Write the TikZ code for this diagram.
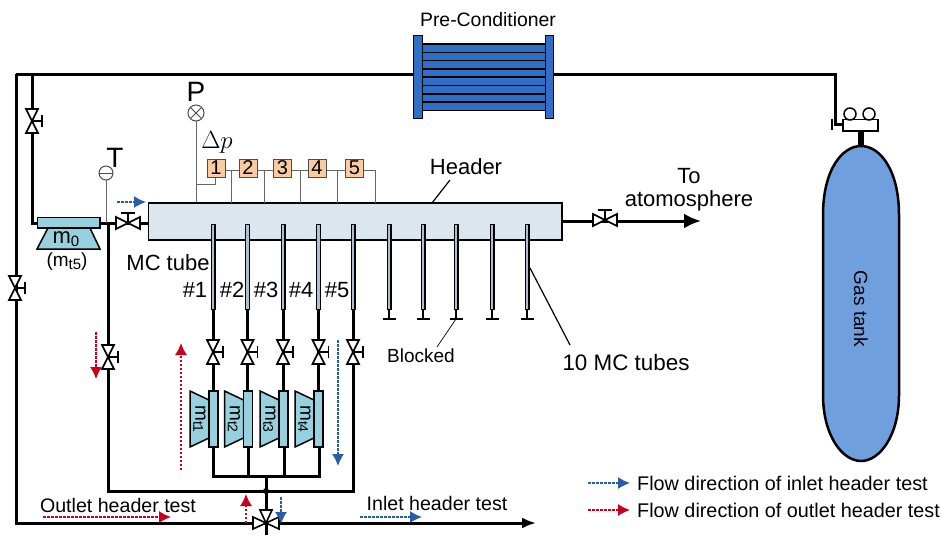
\documentclass[tikz,border=0pt]{standalone}
\usepackage{fontspec}
\setmainfont{Liberation Sans}
\usetikzlibrary{arrows.meta}
\definecolor{scale}{HTML}{97D0DE}
\definecolor{hdr}{HTML}{DCE6EE}
\definecolor{tube}{HTML}{AEBFD0}
\definecolor{orangebox}{HTML}{F8CBA0}
\definecolor{blueflow}{HTML}{2A5CAA}
\definecolor{redflow}{HTML}{C8001E}
\definecolor{cond}{HTML}{2F6FC6}
\definecolor{tank}{HTML}{6F9FDC}
\tikzset{
 pipe/.style={line width=3pt,draw=black},
 gauge/.style={line width=1pt,draw=black!60},
 thin line/.style={line width=1.2pt,draw=black},
 lbl/.style={inner sep=0pt,font=\fontsize{22}{24}\selectfont},
 dbox/.style={draw=black!70,line width=1pt,fill=orangebox,minimum size=18pt,inner sep=0pt,font=\fontsize{20}{22}\selectfont},
 inflow/.style={blueflow,line width=1.4pt,dash pattern=on 2.5pt off 1.5pt,-{Latex[length=12pt,width=12pt,fill=blueflow]}},
 outflow/.style={redflow,line width=1.4pt,dash pattern=on 2.5pt off 1.5pt,-{Latex[length=12pt,width=12pt,fill=redflow]}},
 vvalve/.pic={
  \draw[line width=1.6pt,fill=white] (-6,-12)--(6,-12)--(-6,12)--(6,12)--cycle;
  \draw[line width=1.6pt] (0,0)--(10,0) (10,-6)--(10,6);},
 hvalve/.pic={
  \draw[line width=1.6pt,fill=white] (-12,-6)--(-12,6)--(12,-6)--(12,6)--cycle;
  \draw[line width=1.6pt] (0,0)--(0,-10) (-7,-10)--(7,-10);},
 tvalve/.pic={
  \draw[line width=1.6pt,fill=white] (-13,-6)--(-13,6)--(13,-6)--(13,6)--cycle;
  \draw[line width=1.6pt,fill=white] (-6,-13)--(6,-13)--(0,0)--cycle;},
}
\newcommand{\mctube}[3]{\draw[line width=5pt,draw=black] (#1,#2)--(#1,#3);\draw[line width=2.2pt,draw=tube] (#1,#2+1)--(#1,#3-1);}
\begin{document}
\begin{tikzpicture}[x=1pt,y=-1pt]
\useasboundingbox (0,0) rectangle (941,535);
% coordinates
\coordinate (tl) at (16,74);
\coordinate (pcL) at (415,74);
\coordinate (pcR) at (553,74);
\coordinate (tr) at (835.5,74);
\coordinate (reg) at (835.5,124);
\coordinate (bl) at (16,523);
\coordinate (tv) at (266,523);
\coordinate (pipeEnd) at (536,523);
% main pipes
\draw[pipe] (tl)--(pcL);
\draw[pipe] (pcR)--(tr)--(reg)--(843,124);
\draw[line width=1.6pt] (832,119)--(832,130);
\draw[pipe] (tl)--(bl)--(tv);
\draw[pipe,-{Latex[length=14pt,width=11pt]}] (tv)--(pipeEnd);
\draw[pipe] (32,74)--(32,223)--(38,223);
\draw[pipe] (100,223)--(148,223);
\draw[pipe] (108,223)--(108,491)--(353,491)--(353,310);
\draw[pipe] (266,476)--(266,535);
\draw[pipe] (562,221)--(605,221);
\draw[pipe,-{Latex[length=17pt,width=15pt]}] (605,221)--(701,221);
\fill (266,491) circle (3);
% valves
\path (32,121) pic {vvalve};
\path (15,288) pic {vvalve};
\path (108,357) pic {vvalve};
\path (128,223) pic {hvalve};
\path (605,220) pic {hvalve};
\path (266,523) pic {tvalve};
% preconditioner
\foreach \y in {44,52.3,60.6,68.9,77.2,85.5,93.8,102}{
 \draw[line width=1.5pt,fill=cond] (420,\y) rectangle (548,\y+8.3);}
\draw[line width=1.5pt,fill=cond] (413.5,35.5) rectangle (422.5,118.5);
\draw[line width=1.5pt,fill=cond] (545.5,35.5) rectangle (553.5,118.5);
\node[lbl,font=\fontsize{19.4}{22}\selectfont] (pc) at (488,20) {Pre-Conditioner};
% tank
\draw[line width=6pt] (861,127)--(861,148);
\draw[line width=1.5pt,fill=white] (843,119.5) rectangle (878,131);
\draw[line width=1.5pt,fill=white] (850,114) circle (6) (869,114) circle (6);
\draw[line width=2.5pt,fill=tank] (823,215) .. controls (823,170) and (842,146) .. (861,146) .. controls (880,146) and (899,170) .. (899,215) -- (899,395) .. controls (899,435) and (880,461) .. (861,461) .. controls (842,461) and (823,435) .. (823,395) -- cycle;
\node[lbl,rotate=-90,font=\fontsize{19}{22}\selectfont] (gas) at (861,309) {Gas tank};
% scale m0
\draw[line width=1.5pt,fill=scale] (48,228)--(90,228)--(100,249)--(37,249)--cycle;
\draw[line width=1.5pt,fill=scale] (37.5,217.5) rectangle (100,228);
\node[lbl,inner sep=0pt] (m0) at (66,239) {m\raisebox{-3pt}{\fontsize{15}{17}\selectfont 0}};
\node[lbl,font=\fontsize{19}{22}\selectfont] (mt5) at (67,262) {(m\raisebox{-3pt}{\fontsize{15}{17}\selectfont t5})};
% T sensor
\draw[gauge] (106,173)--(106,223);
\draw[line width=1pt,draw=black!70,fill=white] (106,173) circle (7);
\draw[line width=1pt,draw=black!70] (99,173)--(113,173);
\node[lbl,font=\fontsize{28}{30}\selectfont] (T) at (115,158) {T};
% P sensor
\draw[gauge] (196,113)--(196,202);
\draw[line width=1pt,draw=black!70,fill=white] (196,113) circle (8);
\draw[line width=1pt,draw=black!70] (190.3,107.3)--(201.7,118.7) (190.3,118.7)--(201.7,107.3);
\node[lbl,font=\fontsize{28}{30}\selectfont] (P) at (196,92) {P};
\node[inner sep=0pt,font=\fontsize{23}{25}\selectfont] (dp) at (217,142) {$\Delta p$};
% header
\draw[line width=1.5pt,fill=hdr] (148.5,203) rectangle (562,240);
% dp boxes
\draw[gauge] (196,184)--(215,184)--(215,177);
\draw[gauge] (225,170)--(375,170)--(375,203);
\foreach \x in {231,264.5,300,337}{\draw[gauge] (\x,170)--(\x,203);}
\node[dbox] (b1) at (216,168) {1};
\node[dbox] (b2) at (248,168) {2};
\node[dbox] (b3) at (282.5,168) {3};
\node[dbox] (b4) at (317,168) {4};
\node[dbox] (b5) at (354.5,168) {5};
% tubes
\foreach \x in {213,247.5,283,318.5}{
 \draw[pipe] (\x,310)--(\x,391);
 \mctube{\x}{224}{310}
 \path (\x,352) pic {vvalve};
}
\mctube{353}{224}{310}
\path (353,352) pic {vvalve};
\foreach \x in {389,423,456,492,527}{
 \mctube{\x}{224}{310}
 \draw[line width=1.6pt] (\x,310)--(\x,319) (\x-6.5,319)--(\x+6.5,319);
}
% mass scales
\draw[pipe] (213,447)--(213,476)--(319,476)--(319,447);
\draw[pipe] (248,447)--(248,476) (284,447)--(284,476);
\foreach \x/\n/\dx in {213.5/1/0,248/2/0,283.5/3/0,318.5/4/0}{
 \draw[line width=1.5pt,fill=scale] (\x-23.5,391)--(\x-4.5,400)--(\x-4.5,438)--(\x-23.5,447)--cycle;
 \draw[line width=1.5pt,fill=scale] (\x-4.5,391) rectangle (\x+4.5,447);
 \node[rotate=-90,inner sep=0pt,font=\fontsize{19}{21}\selectfont] at (\x-14,419) {m\raisebox{-2pt}{\fontsize{14}{16}\selectfont t\n}};
}
% labels
\node[lbl] (hl) at (466,167) {Header};
\draw[thin line] (450,180)--(432,203);
\node[lbl] (to) at (689,176) {To};
\node[lbl] (atm) at (689,201) {atomosphere};
\node[lbl] (mct) at (168,263) {MC tube};
\foreach \x/\n in {195/1,232/2,266/3,301/4,337/5}{\node[lbl] at (\x,290) {\#\n};}
\node[lbl,font=\fontsize{19}{21}\selectfont] (blk) at (421,356) {Blocked};
\draw[line width=.7pt] (456,319)--(437,347);
\node[lbl,font=\fontsize{22.4}{24}\selectfont] (ten) at (626,362) {10 MC tubes};
\draw[thin line] (530,268)--(570,345);
\node[lbl,font=\fontsize{19.6}{22}\selectfont] (oh) at (118,505) {Outlet header test};
\node[lbl,font=\fontsize{19.6}{22}\selectfont] (ih) at (437,503) {Inlet header test};
% flows
\draw[inflow] (117,202)--(146,202);
\draw[outflow] (96,332)--(96,379);
\draw[outflow] (181,470)--(181,343);
\draw[inflow] (338,340)--(338,466);
\draw[outflow] (246,523)--(246,494);
\draw[inflow] (281,497)--(281,524);
\draw[outflow] (43,517)--(171,517);
\draw[inflow] (360,517)--(422,517);
\draw[inflow] (588,483)--(630,483);
\draw[outflow] (588,510)--(630,510);
\node[lbl,anchor=west,font=\fontsize{19.8}{22}\selectfont] (l1) at (637,483) {Flow direction of inlet header test};
\node[lbl,anchor=west,font=\fontsize{19.8}{22}\selectfont] (l2) at (637,510) {Flow direction of outlet header test};
\end{tikzpicture}
\end{document}
